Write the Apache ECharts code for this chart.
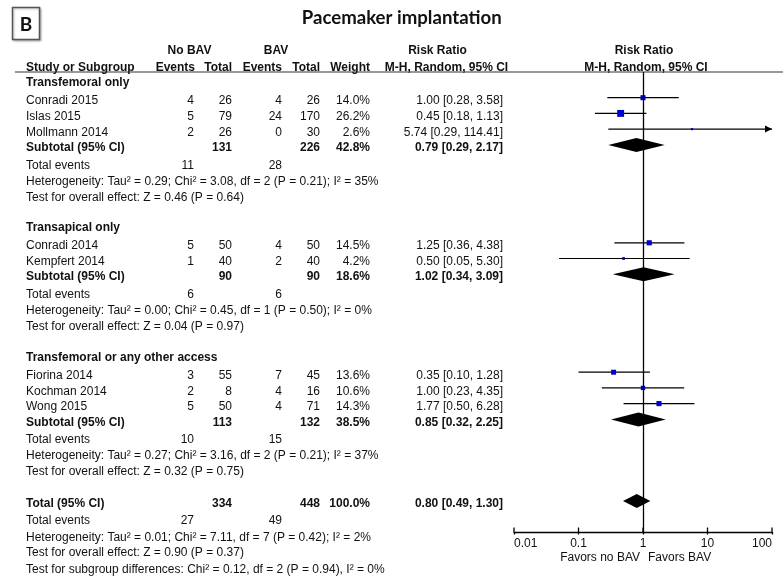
<!DOCTYPE html>
<html><head><meta charset="utf-8">
<script src="https://cdn.jsdelivr.net/npm/echarts@6/dist/echarts.min.js"></script>
<style>html,body{margin:0;padding:0;background:#fff}#c{width:783px;height:580px}</style>
</head><body><div id="c"></div>
<script>
// ---------------- data ----------------
const chartTitle = 'Pacemaker implantation';
const panelLabel = 'B';
const groupNames = ['Transfemoral only', 'Transapical only', 'Transfemoral or any other access'];
const studyNames = [['Conradi 2015', 'Islas 2015', 'Mollmann 2014'], ['Conradi 2014', 'Kempfert 2014'], ['Fiorina 2014', 'Kochman 2014', 'Wong 2015']];
const noBavEvents = [[4, 5, 2], [5, 1], [3, 2, 5]];
const noBavTotal = [[26, 79, 26], [50, 40], [55, 8, 50]];
const bavEvents = [[4, 24, 0], [4, 2], [7, 4, 4]];
const bavTotal = [[26, 170, 30], [50, 40], [45, 16, 71]];
const studyWeight = [[14.0, 26.2, 2.6], [14.5, 4.2], [13.6, 10.6, 14.3]];
const studyRR = [[1.00, 0.45, 5.74], [1.25, 0.50], [0.35, 1.00, 1.77]];
const studyLow = [[0.28, 0.18, 0.29], [0.36, 0.05], [0.10, 0.23, 0.50]];
const studyHigh = [[3.58, 1.13, 114.41], [4.38, 5.30], [1.28, 4.35, 6.28]];
const subNoBavTotal = [131, 90, 113];
const subBavTotal = [226, 90, 132];
const subWeight = [42.8, 18.6, 38.5];
const subRR = [0.79, 1.02, 0.85];
const subLow = [0.29, 0.34, 0.32];
const subHigh = [2.17, 3.09, 2.25];
const subNoBavEvents = [11, 6, 10];
const subBavEvents = [28, 6, 15];
const subHet = [
  'Heterogeneity: Tau² = 0.29; Chi² = 3.08, df = 2 (P = 0.21); I² = 35%',
  'Heterogeneity: Tau² = 0.00; Chi² = 0.45, df = 1 (P = 0.50); I² = 0%',
  'Heterogeneity: Tau² = 0.27; Chi² = 3.16, df = 2 (P = 0.21); I² = 37%'];
const subTest = [
  'Test for overall effect: Z = 0.46 (P = 0.64)',
  'Test for overall effect: Z = 0.04 (P = 0.97)',
  'Test for overall effect: Z = 0.32 (P = 0.75)'];
const totalNoBav = 334, totalBav = 448, totalWeight = 100.0;
const totalRR = 0.80, totalLow = 0.49, totalHigh = 1.30;
const totalEventsNoBav = 27, totalEventsBav = 49;
const totalHet = 'Heterogeneity: Tau² = 0.01; Chi² = 7.11, df = 7 (P = 0.42); I² = 2%';
const totalTest = 'Test for overall effect: Z = 0.90 (P = 0.37)';
const subgroupTest = 'Test for subgroup differences: Chi² = 0.12, df = 2 (P = 0.94), I² = 0%';
const axisTicks = [0.01, 0.1, 1, 10, 100];
const favorsLeft = 'Favors no BAV', favorsRight = 'Favors BAV';

// ---------------- layout ----------------
const FONT = '"Liberation Sans", Arial, sans-serif';
const TXT = '#111';
const BLUE = '#0000cc';
const COL = { name: 26, e1: 194, t1: 232, e2: 282, t2: 320, w: 370, rr: 503 };
const GAP = { headToStudy: 18.3, study: 15.7, studyToSub: 15.3, subToTE: 17.6, teToHet: 16.3, hetToTest: 15.7, testToNext: 30.5, totalToTE: 17.7 };
const MARK_SHIFT = 2.3;
const TEXT_SHIFT = 1;
const fmtRR = (r, l, h) => `${r.toFixed(2)} [${l.toFixed(2)}, ${h.toFixed(2)}]`;

const rows = [];
let y = 81.7;
groupNames.forEach((gName, g) => {
  rows.push({ y, bold: true, cells: [[gName, 'name']] });
  y += GAP.headToStudy;
  studyNames[g].forEach((s, i) => {
    rows.push({ y, bold: false, cells: [[s, 'name'], [noBavEvents[g][i], 'e1'], [noBavTotal[g][i], 't1'], [bavEvents[g][i], 'e2'], [bavTotal[g][i], 't2'], [studyWeight[g][i].toFixed(1) + '%', 'w'], [fmtRR(studyRR[g][i], studyLow[g][i], studyHigh[g][i]), 'rr']],
      mark: [studyRR[g][i], y - MARK_SHIFT, studyLow[g][i], studyHigh[g][i], studyWeight[g][i], 0] });
    y += (i < studyNames[g].length - 1) ? GAP.study : GAP.studyToSub;
  });
  rows.push({ y, bold: true, cells: [['Subtotal (95% CI)', 'name'], [subNoBavTotal[g], 't1'], [subBavTotal[g], 't2'], [subWeight[g].toFixed(1) + '%', 'w'], [fmtRR(subRR[g], subLow[g], subHigh[g]), 'rr']],
    mark: [subRR[g], y - MARK_SHIFT + 0.5, subLow[g], subHigh[g], subWeight[g], 1] });
  y += GAP.subToTE;
  rows.push({ y, bold: false, cells: [['Total events', 'name'], [subNoBavEvents[g], 'e1'], [subBavEvents[g], 'e2']] });
  y += GAP.teToHet;
  rows.push({ y, bold: false, cells: [[subHet[g], 'name']] });
  y += GAP.hetToTest;
  rows.push({ y, bold: false, cells: [[subTest[g], 'name']] });
  y += GAP.testToNext + (g === groupNames.length - 1 ? 1.1 : 0);
});
rows.push({ y, bold: true, cells: [['Total (95% CI)', 'name'], [totalNoBav, 't1'], [totalBav, 't2'], [totalWeight.toFixed(1) + '%', 'w'], [fmtRR(totalRR, totalLow, totalHigh), 'rr']],
  mark: [totalRR, y - MARK_SHIFT + 0.8, totalLow, totalHigh, totalWeight, 1] });
y += GAP.totalToTE;
rows.push({ y, bold: false, cells: [['Total events', 'name'], [totalEventsNoBav, 'e1'], [totalEventsBav, 'e2']] });
y += GAP.teToHet;
rows.push({ y, bold: false, cells: [[totalHet, 'name']] });
y += GAP.hetToTest;
rows.push({ y, bold: false, cells: [[totalTest, 'name']] });
y += 16.5;
rows.push({ y, bold: false, cells: [[subgroupTest, 'name']] });

const forestData = rows.filter(r => r.mark).map(r => r.mark);

const X_MIN = axisTicks[0], X_MAX = axisTicks[axisTicks.length - 1];
const Y_TOP = 72, Y_AXIS = 532;

const chart = echarts.init(document.getElementById('c'), null, { renderer: 'canvas' });

function renderItem(params, api) {
  const yv = api.value(1);
  const est = api.value(0), lo = api.value(2), hi = api.value(3), w = api.value(4), kind = api.value(5);
  const pE = api.coord([est, yv]);
  const pL = api.coord([Math.max(lo, X_MIN), yv]);
  const pH = api.coord([Math.min(hi, X_MAX), yv]);
  const children = [];
  if (kind === 0) {
    children.push({ type: 'line', shape: { x1: pL[0], y1: pL[1], x2: pH[0], y2: pH[1] }, style: { stroke: '#000', lineWidth: 1.2 } });
    if (hi > X_MAX) {
      children.push({ type: 'polygon', shape: { points: [[pH[0], pH[1]], [pH[0] - 7, pH[1] - 3.5], [pH[0] - 7, pH[1] + 3.5]] }, style: { fill: '#000' } });
    }
    const s = 1.35 * Math.sqrt(w);
    children.push({ type: 'rect', shape: { x: pE[0] - s / 2, y: pE[1] - s / 2, width: s, height: s }, style: { fill: BLUE } });
  } else {
    const h = 7;
    children.push({ type: 'polygon', shape: { points: [[pL[0], pE[1]], [pE[0], pE[1] - h], [pH[0], pE[1]], [pE[0], pE[1] + h]] }, style: { fill: '#000' } });
  }
  return { type: 'group', children };
}

// upward half of the decade ticks (the axis itself draws the downward half)
function renderTick(params, api) {
  const p = api.coord([api.value(0), Y_AXIS]);
  return { type: 'line', shape: { x1: p[0], y1: p[1] - 4.5, x2: p[0], y2: p[1] }, style: { stroke: '#000', lineWidth: 1.3 } };
}

chart.setOption({
  animation: false,
  backgroundColor: '#fff',
  grid: { left: 514, right: 783 - 772, top: 0, height: Y_AXIS },
  xAxis: {
    type: 'log', logBase: 10, min: X_MIN, max: X_MAX, position: 'bottom',
    axisLine: { show: true, onZero: false, lineStyle: { color: '#000', width: 1.3 } },
    axisTick: { show: true, inside: false, length: 2.5, lineStyle: { color: '#000', width: 1.3 } },
    axisLabel: { show: true, margin: 6, fontSize: 12, fontFamily: FONT, color: TXT, alignMinLabel: 'left', alignMaxLabel: 'right',
      formatter: v => String(axisTicks.reduce((a, b) => Math.abs(Math.log10(b) - Math.log10(v)) < Math.abs(Math.log10(a) - Math.log10(v)) ? b : a)) },
    splitLine: { show: false }, minorTick: { show: false }
  },
  yAxis: { type: 'value', min: 0, max: Y_AXIS, inverse: true, show: false },
  series: [{
    type: 'custom', renderItem, clip: false,
    encode: { x: 0, y: 1 },
    data: forestData,
    markLine: {
      silent: true, symbol: ['none', 'none'], label: { show: false },
      lineStyle: { color: '#000', width: 1.3, type: 'solid' },
      data: [[{ coord: [1, Y_TOP] }, { coord: [1, Y_AXIS] }]]
    }
  }, {
    type: 'custom', renderItem: renderTick, clip: false, silent: true,
    encode: { x: 0 },
    data: axisTicks.map(v => [v])
  }]
});

// ---------------- table text ----------------
const graphics = [];
const pxY = v => chart.convertToPixel({ yAxisIndex: 0 }, v);
function txt(text, x, yy, align, bold, size, family) {
  graphics.push({ type: 'text', x, y: yy, silent: true,
    style: { text: String(text), fill: TXT, font: `${bold ? 'bold ' : ''}${size || 12}px ${family || FONT}`, textAlign: align || 'left', textVerticalAlign: 'middle' } });
}
// panel label box
graphics.push({ type: 'rect', shape: { x: 12.5, y: 7.5, width: 27, height: 32 }, style: { fill: '#fff', stroke: '#555', lineWidth: 1.5, shadowBlur: 2, shadowColor: 'rgba(0,0,0,0.25)', shadowOffsetX: 1, shadowOffsetY: 1 } });
txt(panelLabel, 26, 24.5, 'center', true, 19, 'Lato, "Open Sans", sans-serif');
txt(chartTitle, 401.7, 17.5, 'center', true, 18.6, 'Lato, "Open Sans", sans-serif');
// header
const HY1 = 50 + TEXT_SHIFT, HY2 = 66.5 + TEXT_SHIFT;
txt('No BAV', 189.5, HY1, 'center', true);
txt('BAV', 276, HY1, 'center', true);
txt('Risk Ratio', 437.5, HY1, 'center', true);
txt('Risk Ratio', 644, HY1, 'center', true);
txt('Study or Subgroup', COL.name, HY2, 'left', true);
txt('Events', COL.e1 + 1, HY2, 'right', true);
txt('Total', COL.t1, HY2, 'right', true);
txt('Events', COL.e2, HY2, 'right', true);
txt('Total', COL.t2, HY2, 'right', true);
txt('Weight', COL.w, HY2, 'right', true);
txt('M-H, Random, 95% CI', 446.5, HY2, 'center', true);
txt('M-H, Random, 95% CI', 646, HY2, 'center', true);
graphics.push({ type: 'line', shape: { x1: 15, y1: Y_TOP, x2: 783, y2: Y_TOP }, style: { stroke: '#333', lineWidth: 1.2 } });
// rows
rows.forEach(r => {
  const yy = pxY(r.y) + TEXT_SHIFT;
  r.cells.forEach(([t, c]) => txt(t, COL[c], yy, c === 'name' ? 'left' : 'right', r.bold));
});
// favours labels
const x1 = chart.convertToPixel({ xAxisIndex: 0 }, 1);
txt(favorsLeft, x1 - 3, 557.5, 'right', false);
txt(favorsRight, x1 + 5, 557.5, 'left', false);

chart.setOption({ graphic: { elements: graphics } });
</script>
</body></html>
